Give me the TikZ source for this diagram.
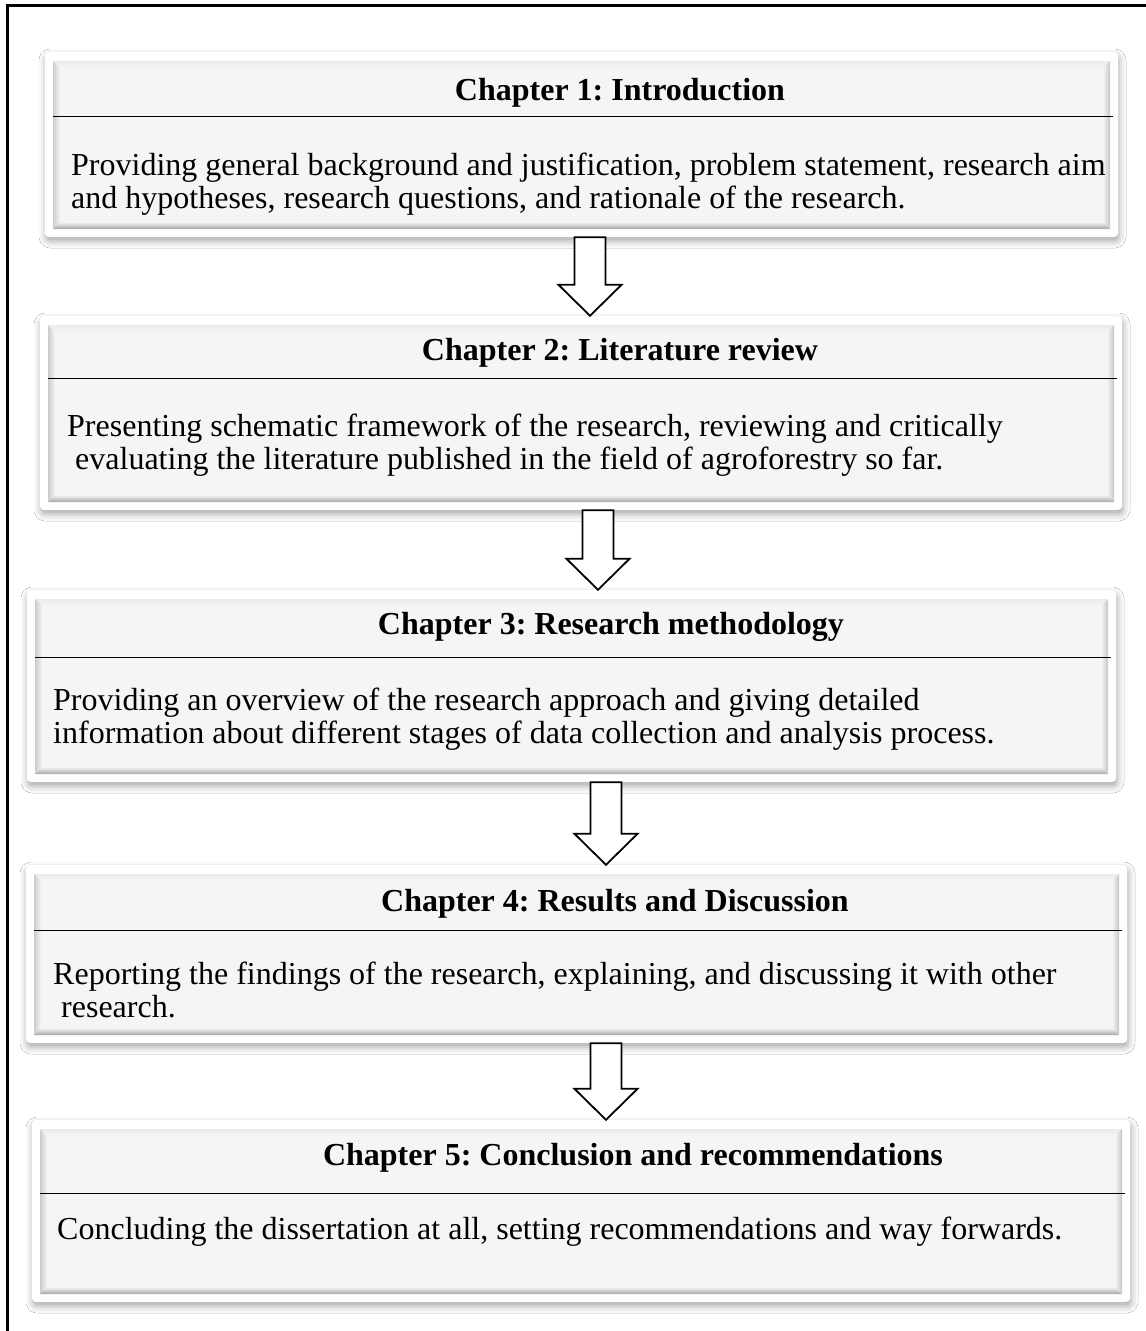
\documentclass[tikz,border=0pt]{standalone}
\usepackage{fontspec}
\setmainfont{Liberation Serif}
\usetikzlibrary{calc,shadows.blur}
\definecolor{facegray}{HTML}{F5F5F5}
\newcommand{\chapfont}{\fontsize{32}{33}\selectfont\frenchspacing}

\tikzset{
  chapbox/.style={rectangle, rounded corners=4pt, fill=white, inner sep=0pt,
    blur shadow={shadow xshift=1pt, shadow yshift=-4pt, shadow blur radius=7pt, shadow opacity=35},
    path picture={
      \coordinate (bA) at ([shift={(8pt,-9pt)}]path picture bounding box.north west);
      \coordinate (bC) at ([shift={(-8pt,8pt)}]path picture bounding box.south east);
      \coordinate (bB) at (bC |- bA);
      \coordinate (bD) at (bA |- bC);
      \coordinate (iA) at ([shift={(7pt,-7pt)}]bA);
      \coordinate (iB) at ([shift={(-7pt,-7pt)}]bB);
      \coordinate (iC) at ([shift={(-7pt,7pt)}]bC);
      \coordinate (iD) at ([shift={(7pt,7pt)}]bD);
      \fill[facegray, sharp corners] (bA) rectangle (bC);
      \shade[sharp corners, top color=gray!16, bottom color=facegray] (bA) -- (bB) -- (iB) -- (iA) -- cycle;
      \shade[sharp corners, left color=gray!40, right color=facegray] (bA) -- (iA) -- (iD) -- (bD) -- cycle;
      \shade[sharp corners, left color=facegray, right color=gray!45] (bB) -- (bC) -- (iC) -- (iB) -- cycle;
      \shade[sharp corners, top color=facegray, bottom color=gray!70] (iD) -- (iC) -- (bC) -- (bD) -- cycle;
    }},
  chaptitle/.style={anchor=base, font=\chapfont\bfseries, inner sep=0pt},
  chaptext/.style={anchor=base west, align=left, font=\chapfont, inner sep=0pt},
  divider/.style={line width=1pt},
  blockarr/.style={draw=black, line width=1.8pt, fill=white, line join=miter}
}

\newcommand{\chaparrow}[3]{%
  \draw[blockarr] let \p1=(#3,0 |- #1.south), \p2=(#3,0 |- #2.north) in
    (\x1-15.5pt,\y1) -- (\x1+15.5pt,\y1) -- (\x1+15.5pt,\y2+31pt) -- (\x1+31.5pt,\y2+31pt)
    -- (\x2,\y2) -- (\x1-31.5pt,\y2+31pt) -- (\x1-15.5pt,\y2+31pt) -- cycle;}

\begin{document}
\begin{tikzpicture}[x=1pt,y=-1pt]
\useasboundingbox (0,0) rectangle (1146,1331);
\fill[white] (0,0) rectangle (1146,1331);
\draw[line width=3pt] (7,1331) -- (7,5) -- (1146,5);

\node[chapbox, minimum width=1073pt, minimum height=185pt] (b1) at (581.5,144.5) {};
\node[chapbox, minimum width=1082pt, minimum height=194pt] (b2) at (581,413) {};
\node[chapbox, minimum width=1089pt, minimum height=192pt] (b3) at (571.5,686) {};
\node[chapbox, minimum width=1101pt, minimum height=178pt] (b4) at (576.5,954) {};
\node[chapbox, minimum width=1098pt, minimum height=182pt] (b5) at (581,1211) {};

\draw[divider] ($(b1.west |- 0,116)+(8pt,0)$) -- ($(b1.east |- 0,116)+(-5pt,0)$);
\draw[divider] ($(b2.west |- 0,378)+(8pt,0)$) -- ($(b2.east |- 0,378)+(-5pt,0)$);
\draw[divider] ($(b3.west |- 0,657)+(8pt,0)$) -- ($(b3.east |- 0,657)+(-5pt,0)$);
\draw[divider] ($(b4.west |- 0,930)+(8pt,0)$) -- ($(b4.east |- 0,930)+(-5pt,0)$);
\draw[divider] ($(b5.west |- 0,1193)+(8pt,0)$) -- ($(b5.east |- 0,1193)+(-5pt,0)$);

\node[chaptitle] (t1) at (620,100) {Chapter 1: Introduction};
\node[chaptitle] (t2) at (620,360) {Chapter 2: Literature review};
\node[chaptitle] (t3) at (611,634) {Chapter 3: Research methodology};
\node[chaptitle] (t4) at (615,911) {Chapter 4: Results and Discussion};
\node[chaptitle] (t5) at (633,1165) {Chapter 5: Conclusion and recommendations};

\node[chaptext] (d1) at (71,208) {Providing general background and justification, problem statement, research aim\\and hypotheses, research questions, and rationale of the research.};
\node[chaptext] (d2) at (67,469) {Presenting schematic framework of the research, reviewing and critically\\\ evaluating the literature published in the field of agroforestry so far.};
\node[chaptext] (d3) at (53,743) {Providing an overview of the research approach and giving detailed\\information about different stages of data collection and analysis process.};
\node[chaptext] (d4) at (53,1017) {Reporting the findings of the research, explaining, and discussing it with other\\\ research.};
\node[chaptext] (d5) at (57,1239) {Concluding the dissertation at all, setting recommendations and way forwards.};

\chaparrow{b1}{b2}{590}
\chaparrow{b2}{b3}{598}
\chaparrow{b3}{b4}{606}
\chaparrow{b4}{b5}{606}
\end{tikzpicture}
\end{document}
